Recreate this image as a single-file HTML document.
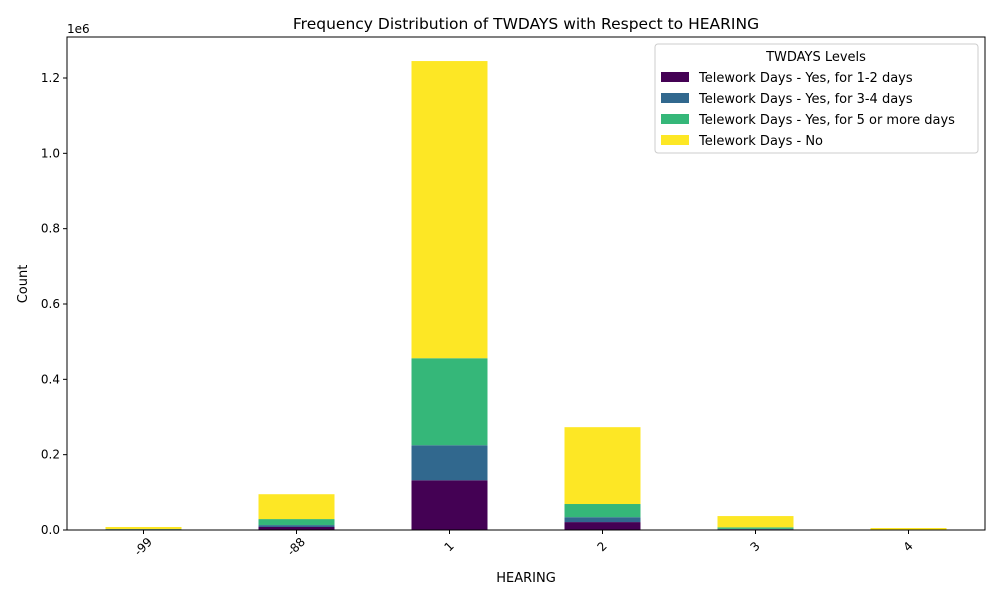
<!DOCTYPE html>
<html><head><meta charset="utf-8"><style>
body{margin:0;background:#fff;font-family:"Liberation Sans","DejaVu Sans",sans-serif}
</style></head><body>
<svg id="c" width="1000" height="600" font-family="DejaVu Sans, Liberation Sans, sans-serif"></svg>
<script>
const categories=["-99","-88","1","2","3","4"];
const seriesNames=["Telework Days - Yes, for 1-2 days","Telework Days - Yes, for 3-4 days","Telework Days - Yes, for 5 or more days","Telework Days - No"];
const s12=[1500,8000,132000,21000,2000,300];
const s34=[500,5000,93000,13000,1000,200];
const s5=[500,16000,231000,35000,4000,300];
const sNo=[5500,66000,789000,204000,30000,4500];
const yTicks=[0,0.2,0.4,0.6,0.8,1.0,1.2];
const colors=["#440154","#31688e","#35b779","#fde725"];
const series=[s12,s34,s5,sNo];
const svg=document.getElementById('c');const NS="http://www.w3.org/2000/svg";
const L=67,R=985,T=37,B=530;
const y=v=>B-v/1e6*(B-78)/1.2;
const x=i=>L+(R-L)/6*(i+0.5);
function mk(t,a,txt){const e=document.createElementNS(NS,t);for(const k in a)e.setAttribute(k,a[k]);if(txt!==undefined)e.textContent=txt;svg.appendChild(e);return e;}
let e;
e=mk('text',{x:526,y:29,'text-anchor':'middle','font-size':15.5},'Frequency Distribution of TWDAYS with Respect to HEARING');

categories.forEach((c,i)=>{let base=0;series.forEach((s,k)=>{const v=s[i];
e=mk('rect',{x:x(i)-38,y:y(base+v),width:76,height:y(base)-y(base+v),fill:colors[k]});
base+=v;});
e=mk('line',{x1:x(i),x2:x(i),y1:B,y2:B+4,stroke:'#000'});

e=mk('text',{x:0,y:0,'font-size':12,'text-anchor':'middle',transform:`translate(${x(i)},${B+17}) rotate(-45)`,'dominant-baseline':'middle'},c);
});
yTicks.forEach(t=>{const yy=y(t*1e6);
e=mk('line',{x1:L-4,x2:L,y1:yy,y2:yy,stroke:'#000'});
e=mk('text',{x:L-7,y:yy+4,'font-size':12,'text-anchor':'end'},t.toFixed(1));});
e=mk('text',{x:L,y:33,'font-size':12},'1e6');
e=mk('rect',{x:L,y:T,width:R-L,height:B-T,fill:'none',stroke:'#000'});
e=mk('text',{x:526,y:582,'font-size':13,'text-anchor':'middle'},'HEARING');
e=mk('text',{x:0,y:0,'font-size':13,'text-anchor':'middle',transform:'translate(27,284) rotate(-90)'},'Count');
e=mk('rect',{x:655,y:44,width:323,height:109,rx:3,fill:'#fff',stroke:'#ccc'});
e=mk('text',{x:816,y:61,'font-size':13,'text-anchor':'middle'},'TWDAYS Levels');
seriesNames.forEach((n,k)=>{const yy=77+k*21;
e=mk('rect',{x:661,y:yy-5,width:28,height:10,fill:colors[k]});
e=mk('text',{x:699,y:yy+5,'font-size':13},n);});
</script>
</body></html>
